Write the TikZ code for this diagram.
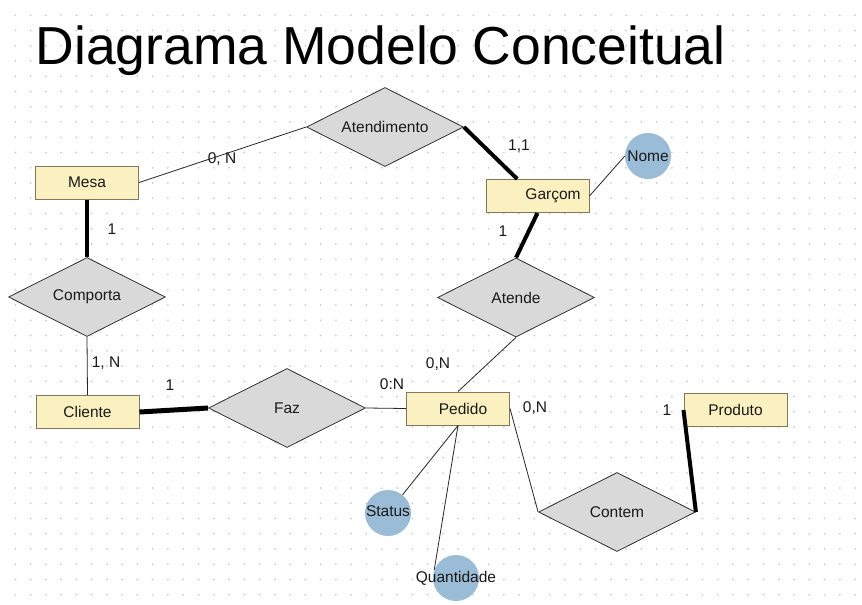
\documentclass[tikz,border=0pt]{standalone}
\usepackage{fontspec}
\setmainfont{Liberation Sans}
\usetikzlibrary{shapes.geometric}

\definecolor{entfill}{HTML}{FBF0C0}
\definecolor{entdraw}{HTML}{7F7757}
\definecolor{relfill}{HTML}{D9D9D9}
\definecolor{attfill}{HTML}{9BBCD6}
\definecolor{gridc}{HTML}{C8CCD8}
\definecolor{txt}{HTML}{1A1A1A}

\begin{document}
\begin{tikzpicture}[x=1pt,y=-1pt]
					\tikzstyle{entity}=[draw=entdraw,fill=entfill,line width=1pt,minimum width=103pt,minimum height=33pt,inner sep=0pt,text=txt,font=\fontsize{15.5}{18}\selectfont]
					\tikzstyle{relation}=[diamond,aspect=2,draw=black!80,fill=relfill,line width=0.8pt,minimum width=157pt,minimum height=79pt,inner sep=0pt,text=txt,font=\fontsize{15.5}{18}\selectfont]
					\tikzstyle{attrib}=[circle,fill=attfill,minimum size=46pt,inner sep=0pt,text=txt,font=\fontsize{15.5}{18}\selectfont]
					\tikzstyle{card}=[inner sep=0pt,text=txt,font=\fontsize{15.5}{18}\selectfont]
					\tikzstyle{link}=[draw=black!85,line width=0.8pt]
					\tikzstyle{total}=[draw=black,line width=4pt]
					\fill[white] (0,0) rectangle (862,605);
					\useasboundingbox (0,0) rectangle (862,605);
					% grid of dots
					\foreach \i in {1,...,56}
						\foreach \j in {1,...,39}
							\fill[gridc] (\i*15.27,\j*15.25) circle (1);
					\node (title) [anchor=base west,inner sep=0pt,font=\fontsize{53.5}{60}\selectfont] at (35.5,64.5) {Diagrama Modelo Conceitual};
					% entities
					\node (mesa) [entity] at (87,182.5) {Mesa};
					\node (garcom) [entity] at (537.5,196) {\hspace*{31pt}Garçom};
					\node (cliente) [entity] at (87.5,412) {Cliente};
					\node (pedido) [entity] at (458,408.5) {\hspace*{10pt}Pedido};
					\node (produto) [entity] at (735.5,410) {Produto};
					% relations
					\node (atendimento) [relation] at (385,127) {Atendimento};
					\node (comporta) [relation] at (87,297) {Comporta};
					\node (atende) [relation] at (516,297.5) {Atende};
					\node (faz) [relation] at (287,408) {Faz};
					\node (contem) [relation] at (617,512) {\raisebox{-3pt}{Contem}};
					% attributes
					\node (nome) [attrib] at (648,156) {\makebox[0pt]{Nome}};
					\node (status) [attrib] at (388,513) {\makebox[0pt]{\raisebox{3pt}{Status}}};
					\node (quantidade) [attrib] at (456,578) {\makebox[0pt]{Quantidade}};
					% connectors
					\draw[link] (mesa.east) -- (atendimento.west);
					\draw[total] (atendimento.east) -- (garcom.140);
					\draw[link] (garcom.east) -- (nome.west);
					\draw[total] (garcom.south) -- (atende.north);
					\draw[total] (mesa.south) -- (comporta.north);
					\draw[link] (comporta.south) -- (cliente.north);
					\draw[total,line width=5pt] (cliente.east) -- (faz.west);
					\draw[link] (faz.east) -- (pedido.west);
					\draw[link] (atende.south) -- (pedido.north);
					\draw[link] (pedido.east) -- (contem.west);
					\draw[total] (contem.east) -- (produto.west);
					\draw[link] (pedido.south) -- (status);
					\draw[link] (pedido.south) -- (quantidade.160);
					% cardinalities
					\node (cmesaat) [card] at (222,159) {0, N};
					\node (cgarcomat) [card] at (519,146) {1,1};
					\node (cgarcomatd) [card] at (503,231) {1};
					\node (cmesaco) [card] at (112,229) {1};
					\node (cclienteco) [card] at (106,363) {1, N};
					\node (cclientefz) [card] at (170,385) {1};
					\node (cpedidofz) [card] at (392,384) {0:N};
					\node (cpedidoatd) [card] at (438,364) {0,N};
					\node (cpedidoct) [card] at (535,408) {0,N};
					\node (cprodutoct) [card] at (667,410) {1};
				\end{tikzpicture}
\end{document}
